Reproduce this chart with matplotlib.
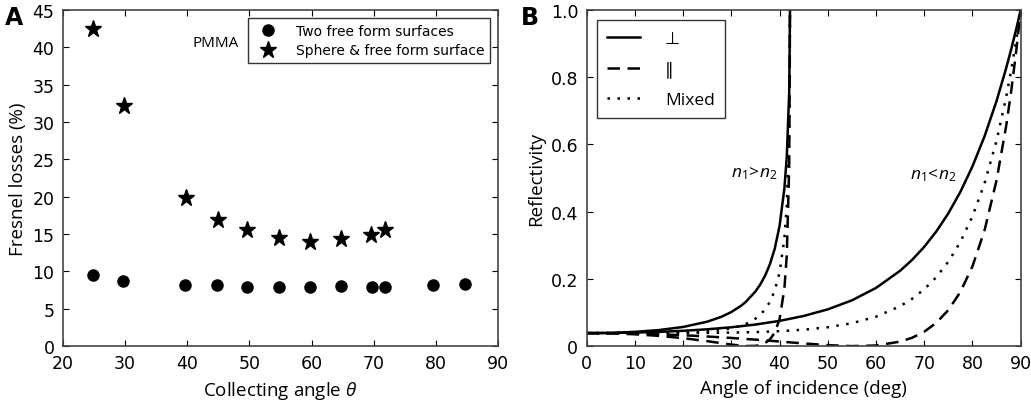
import numpy as np
import matplotlib.pyplot as plt

plt.rcParams['mathtext.fontset'] = 'custom'
plt.rcParams['mathtext.rm'] = 'Open Sans'
plt.rcParams['mathtext.it'] = 'Open Sans:italic'

# panel A: Fresnel losses (%) vs collecting angle
x_two = [24.8, 29.7, 39.6, 44.8, 49.7, 54.8, 59.8, 64.8, 69.7, 71.9, 79.6, 84.7]
y_two = [9.55, 8.75, 8.2, 8.15, 7.95, 7.95, 7.9, 8.0, 7.9, 7.95, 8.15, 8.25]
x_sph = [24.9, 29.9, 39.8, 44.9, 49.6, 54.8, 59.8, 64.7, 69.5, 71.9]
y_sph = [42.4, 32.2, 19.8, 16.9, 15.6, 14.5, 13.9, 14.4, 14.9, 15.5]

# panel B: reflectivity
# n1 < n2 (air -> PMMA)
ang_ext = [0, 5, 10, 15, 20, 25, 30, 35, 40, 45, 50, 55, 60, 65, 67.5, 70,
           72.5, 75, 77.5, 80, 82.5, 85, 87, 88, 89, 90]
rs_ext = [0.0387, 0.0391, 0.0404, 0.0425, 0.0456, 0.0501, 0.0561, 0.0642,
          0.0751, 0.0897, 0.1094, 0.1362, 0.1731, 0.2242, 0.2567, 0.2954,
          0.341, 0.395, 0.459, 0.5347, 0.6241, 0.7295, 0.8275, 0.8813,
          0.9387, 1.0]
rp_ext = [0.0387, 0.0383, 0.0371, 0.0352, 0.0324, 0.0287, 0.0243, 0.0193,
          0.0137, 0.008, 0.003, 0.0001, 0.0019, 0.0133, 0.025, 0.0429,
          0.0693, 0.1073, 0.1613, 0.2375, 0.3441, 0.4936, 0.6558, 0.7551,
          0.869, 1.0]
# n1 > n2 (PMMA -> air)
ang_int = [0, 5, 10, 15, 20, 25, 28, 30, 32, 33, 35, 36, 37, 38, 39, 40,
           41, 41.5, 42, 42.1, 42.16]
rs_int = [0.0387, 0.0393, 0.0425, 0.0478, 0.057, 0.0727, 0.0876, 0.1014,
          0.1199, 0.1316, 0.1626, 0.1833, 0.2095, 0.2435, 0.2898, 0.3571,
          0.4687, 0.5636, 0.7555, 0.8877, 1.0]
rp_int = [0.0387, 0.0381, 0.0352, 0.0305, 0.0237, 0.0148, 0.0087, 0.0047,
          0.0014, 0.0003, 0.0008, 0.0035, 0.0091, 0.0199, 0.0401, 0.0799,
          0.1705, 0.27, 0.5343, 0.7675, 1.0]

fig = plt.figure(figsize=(10.31, 4.06), dpi=100)
ax1 = fig.add_axes([0.061, 0.145, 0.422, 0.828])
ax2 = fig.add_axes([0.569, 0.145, 0.421, 0.828])

ax1.plot(x_two, y_two, 'o', color='black', ms=8, label='Two free form surfaces')
ax1.plot(x_sph, y_sph, '*', color='black', ms=12.5, label='Sphere & free form surface')
ax1.set_xlim(20, 90)
ax1.set_ylim(0, 45)
ax1.set_xticks(range(20, 91, 10))
ax1.set_yticks(range(0, 46, 5))
ax1.set_xlabel(r'Collecting angle $\theta$', family='Open Sans', fontsize=13.5, labelpad=5)
ax1.set_ylabel('Fresnel losses (%)', family='Open Sans', fontsize=13.5)
ax1.text(44.6, 40.7, 'PMMA', ha='center', va='center', family='Open Sans', fontsize=11)
leg = ax1.legend(loc='upper right', fontsize=10, numpoints=1, fancybox=False,
                 borderaxespad=0.6, handletextpad=1.0, labelspacing=0.4)
leg.get_frame().set_edgecolor('black')

mix_ext = [(a + b) / 2 for a, b in zip(rs_ext, rp_ext)]
mix_int = [(a + b) / 2 for a, b in zip(rs_int, rp_int)]
ax2.plot(ang_int, rs_int, '-', color='black', lw=1.8, label='\u22a5')
ax2.plot(ang_int, rp_int, color='black', lw=1.8, dashes=(5, 3), label='\u2225')
ax2.plot(ang_int, mix_int, color='black', lw=1.8, dashes=(1, 3), label='Mixed')
ax2.plot(ang_ext, rs_ext, '-', color='black', lw=1.8)
ax2.plot(ang_ext, rp_ext, color='black', lw=1.8, dashes=(5, 3))
ax2.plot(ang_ext, mix_ext, color='black', lw=1.8, dashes=(1, 3))
ax2.set_xlim(0, 90)
ax2.set_ylim(0, 1.0)
ax2.set_xticks(range(0, 91, 10))
ax2.set_yticks([0, 0.2, 0.4, 0.6, 0.8, 1.0])
ax2.set_yticklabels(['0', '0.2', '0.4', '0.6', '0.8', '1.0'])
ax2.set_xlabel('Angle of incidence (deg)', family='Open Sans', fontsize=13.5, labelpad=5)
ax2.set_ylabel('Reflectivity', family='Open Sans', fontsize=13.5)
ax2.text(34.8, 0.518, r'$n_1\!>\!n_2$', ha='center', va='center', fontsize=12.5)
ax2.text(71.8, 0.512, r'$n_1\!<\!n_2$', ha='center', va='center', fontsize=12.5)
leg2 = ax2.legend(loc='upper left', handlelength=1.9, fancybox=False,
                  prop={'family': ['Open Sans', 'DejaVu Sans'], 'size': 12.5},
                  labelspacing=0.8, handletextpad=1.4, borderpad=0.6,
                  borderaxespad=0.6)
leg2.get_frame().set_edgecolor('black')

for ax in (ax1, ax2):
    ax.tick_params(direction='in', top=True, right=True, labelsize=12.5, length=4, pad=6)
    for s in ax.spines.values():
        s.set_color('#444444')
        s.set_linewidth(1.2)

fig.text(0.005, 0.955, 'A', fontsize=17, fontweight='bold', va='center')
fig.text(0.505, 0.955, 'B', fontsize=17, fontweight='bold', va='center')

fig.savefig('out.png', dpi=100)
